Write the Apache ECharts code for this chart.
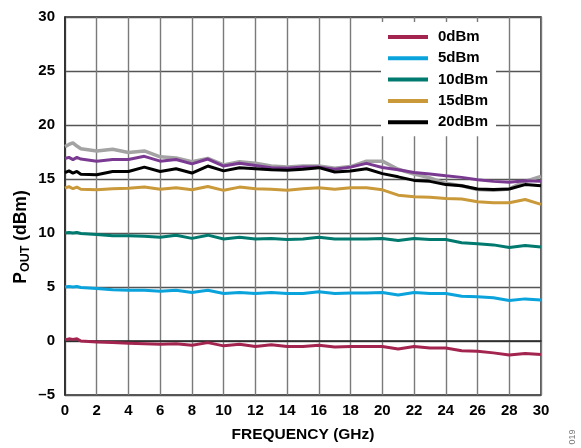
<!DOCTYPE html>
<html>
<head>
<meta charset="utf-8">
<script src="https://cdn.jsdelivr.net/npm/echarts@6/dist/echarts.min.js"></script>
<style>
html,body{margin:0;padding:0;background:#fff;}
#chart{width:581px;height:448px;}
</style>
</head>
<body>
<div id="chart"></div>
<script>
var freq = [0, 0.25, 0.5, 0.75, 1, 2, 3, 4, 5, 6, 7, 8, 9, 10, 11, 12, 13, 14, 15, 16, 17, 18, 19, 20, 21, 22, 23, 24, 25, 26, 27, 28, 29, 30];

var p0dBm = [0.1, 0.2, 0.15, 0.2, 0.0, -0.1, -0.15, -0.2, -0.25, -0.3, -0.25, -0.4, -0.15, -0.45, -0.3, -0.5, -0.35, -0.5, -0.5, -0.4, -0.55, -0.5, -0.5, -0.5, -0.75, -0.5, -0.65, -0.65, -0.9, -0.95, -1.1, -1.3, -1.15, -1.25];
var p5dBm = [5.0, 5.05, 5.0, 5.05, 4.95, 4.85, 4.75, 4.7, 4.7, 4.6, 4.7, 4.5, 4.7, 4.4, 4.5, 4.4, 4.5, 4.4, 4.4, 4.55, 4.4, 4.45, 4.45, 4.5, 4.25, 4.5, 4.4, 4.4, 4.15, 4.1, 4.0, 3.75, 3.9, 3.8];
var p10dBm = [10.0, 10.05, 10.0, 10.05, 9.95, 9.85, 9.75, 9.75, 9.7, 9.6, 9.8, 9.5, 9.8, 9.45, 9.6, 9.45, 9.5, 9.4, 9.45, 9.6, 9.45, 9.45, 9.45, 9.5, 9.3, 9.5, 9.4, 9.4, 9.1, 9.0, 8.9, 8.65, 8.85, 8.7];
var p15dBm = [14.15, 14.3, 14.1, 14.25, 14.05, 14.0, 14.1, 14.15, 14.25, 14.05, 14.2, 14.0, 14.3, 13.95, 14.25, 14.1, 14.05, 13.95, 14.1, 14.2, 14.05, 14.2, 14.2, 14.0, 13.5, 13.35, 13.3, 13.2, 13.15, 12.9, 12.8, 12.8, 13.1, 12.65];
var p20dBm = [15.6, 15.75, 15.55, 15.7, 15.45, 15.4, 15.7, 15.7, 16.1, 15.7, 15.95, 15.55, 16.2, 15.75, 16.05, 15.95, 15.85, 15.8, 15.9, 16.05, 15.65, 15.75, 15.95, 15.5, 15.2, 14.87, 14.78, 14.48, 14.38, 14.08, 14.02, 14.08, 14.48, 14.38];
var pPurple = [16.9, 17.0, 16.8, 17.0, 16.85, 16.65, 16.8, 16.8, 17.1, 16.65, 16.8, 16.4, 16.85, 16.2, 16.45, 16.25, 16.05, 16.0, 16.1, 16.1, 15.9, 16.1, 16.45, 16.07, 15.85, 15.61, 15.46, 15.3, 15.15, 14.94, 14.78, 14.69, 14.84, 14.78];
var pGray = [18.0, 18.2, 18.35, 18.05, 17.8, 17.6, 17.75, 17.45, 17.6, 17.05, 16.95, 16.6, 16.9, 16.3, 16.6, 16.45, 16.2, 16.1, 16.2, 16.2, 16.0, 16.15, 16.65, 16.65, 15.9, 15.46, 15.1, 14.6, 14.38, 14.02, 13.95, 14.08, 14.78, 15.24];

var xTicks = [0, 2, 4, 6, 8, 10, 12, 14, 16, 18, 20, 22, 24, 26, 28, 30];
var yTicks = [-5, 0, 5, 10, 15, 20, 25, 30];

function pairs(v) { return freq.map(function (f, i) { return [f, v[i]]; }); }

var FONT = '"Liberation Sans", Arial, sans-serif';

var seriesDefs = [
  { name: 'gray', data: pGray, color: '#a3a3a3', width: 3.5 },
  { name: 'purple', data: pPurple, color: '#7b3a92', width: 3 },
  { name: '20dBm', data: p20dBm, color: '#000000', width: 3 },
  { name: '15dBm', data: p15dBm, color: '#c9993a', width: 3 },
  { name: '10dBm', data: p10dBm, color: '#007a6e', width: 3 },
  { name: '5dBm', data: p5dBm, color: '#0aa3dc', width: 3 },
  { name: '0dBm', data: p0dBm, color: '#a3244f', width: 3 }
];

var chart = echarts.init(document.getElementById('chart'), null, { renderer: 'canvas' });

var option = {
  animation: false,
  backgroundColor: '#fff',
  grid: { left: 65, right: 40, top: 17, bottom: 51, show: true, borderColor: '#222', borderWidth: 1.5, backgroundColor: 'transparent' },
  xAxis: {
    type: 'value', min: 0, max: 30, interval: 2,
    name: 'FREQUENCY (GHz)', nameLocation: 'middle', nameGap: 32,
    nameTextStyle: { fontFamily: FONT, fontWeight: 'bold', fontSize: 15.5, color: '#000' },
    axisLine: { show: true, lineStyle: { color: '#222', width: 1.5 } },
    axisTick: { show: false },
    axisLabel: { fontFamily: FONT, fontWeight: 'bold', fontSize: 15, color: '#000', margin: 8 },
    splitLine: { show: true, lineStyle: { color: '#7a7a7a', width: 1.4 } }
  },
  yAxis: {
    type: 'value', min: -5, max: 30, interval: 5,
    axisLine: { show: true, lineStyle: { color: '#222', width: 1.5 } },
    axisTick: { show: false },
    axisLabel: {
      fontFamily: FONT, fontWeight: 'bold', fontSize: 15, color: '#000', margin: 10,
      formatter: function (v) { return v < 0 ? '\u2013' + Math.abs(v) : String(v); }
    },
    splitLine: { show: true, lineStyle: { color: '#555', width: 1.4 } }
  },
  legend: {
    data: ['0dBm', '5dBm', '10dBm', '15dBm', '20dBm'],
    orient: 'vertical', left: 381, top: 22,
    backgroundColor: '#fff',
    padding: [7, 8, 6, 7],
    icon: 'rect', itemWidth: 40, itemHeight: 4, itemGap: 5.3,
    textStyle: { fontFamily: FONT, fontWeight: 'bold', fontSize: 15, color: '#000', lineHeight: 16, padding: [0, 0, 0, 5] }
  },
  graphic: [
    {
      type: 'text', x: 21, y: 237, rotation: Math.PI / 2,
      style: {
        text: '{a|P}{b|OUT}{a| (dBm)}',
        align: 'center', verticalAlign: 'middle',
        rich: {
          a: { fontFamily: FONT, fontWeight: 'bold', fontSize: 17.5, fill: '#000' },
          b: { fontFamily: FONT, fontWeight: 'bold', fontSize: 12.5, fill: '#000', padding: [9, 0, 0, 0] }
        }
      }
    },
    {
      type: 'text', x: 573, y: 437, rotation: Math.PI / 2,
      style: { text: '019', fontFamily: FONT, fontSize: 9, fill: '#777', align: 'center', verticalAlign: 'middle' }
    }
  ],
  series: seriesDefs.map(function (s) {
    return {
      name: s.name, type: 'line', data: pairs(s.data),
      showSymbol: false, symbol: 'none', smooth: false,
      lineStyle: { color: s.color, width: s.width },
      itemStyle: { color: s.color }
    };
  })
};

chart.setOption(option);
</script>
</body>
</html>
